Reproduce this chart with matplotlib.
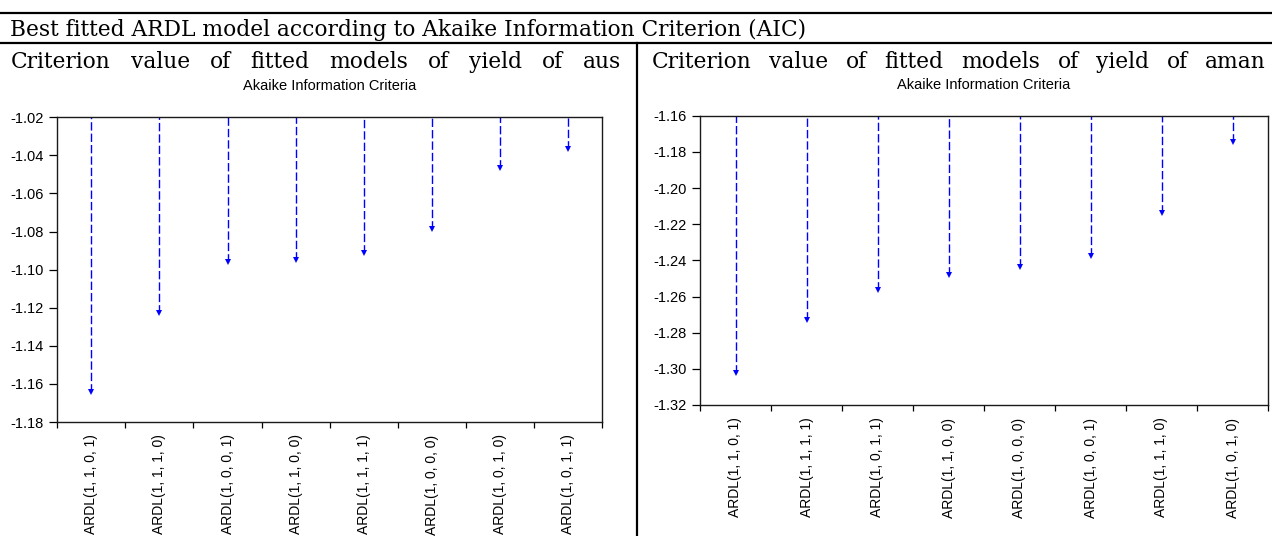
import numpy as np
import matplotlib
matplotlib.use('Agg')
import matplotlib.pyplot as plt
from matplotlib.lines import Line2D

# AIC values
aus_models = ['ARDL(1, 1, 0, 1)', 'ARDL(1, 1, 1, 0)', 'ARDL(1, 0, 0, 1)', 'ARDL(1, 1, 0, 0)',
              'ARDL(1, 1, 1, 1)', 'ARDL(1, 0, 0, 0)', 'ARDL(1, 0, 1, 0)', 'ARDL(1, 0, 1, 1)']
aus_aic = [-1.1645, -1.1228, -1.0961, -1.0949, -1.0910, -1.0788, -1.0468, -1.0366]
aus_yticks = [-1.18, -1.16, -1.14, -1.12, -1.10, -1.08, -1.06, -1.04, -1.02]

aman_models = ['ARDL(1, 1, 0, 1)', 'ARDL(1, 1, 1, 1)', 'ARDL(1, 0, 1, 1)', 'ARDL(1, 1, 0, 0)',
               'ARDL(1, 0, 0, 0)', 'ARDL(1, 0, 0, 1)', 'ARDL(1, 1, 1, 0)', 'ARDL(1, 0, 1, 0)']
aman_aic = [-1.3025, -1.2730, -1.2566, -1.2481, -1.2438, -1.2377, -1.2139, -1.1747]
aman_yticks = [-1.32, -1.30, -1.28, -1.26, -1.24, -1.22, -1.20, -1.18, -1.16]

heading = 'Best fitted ARDL model according to Akaike Information Criterion (AIC)'
aus_caption = 'Criterion value of fitted models of yield of aus'
aman_caption = 'Criterion value of fitted models of yield of aman'

W, H = 1272, 536
fig = plt.figure(figsize=(W / 100, H / 100), dpi=100)
renderer = fig.canvas.get_renderer()
serif = 'DejaVu Serif'
sans = 'Liberation Sans'


def px(x, y):
    return x / W, 1 - y / H


# table rules
for y in (13.3, 43.3):
    fig.add_artist(Line2D([0, 1], [1 - y / H] * 2, transform=fig.transFigure, color='black', lw=1.6))
fig.add_artist(Line2D([636.7 / W] * 2, [0, 1 - 43.3 / H], transform=fig.transFigure, color='black', lw=1.6))

# heading, scaled to the width it takes in the reference
t = fig.text(*px(10, 35.7), heading, family=serif, fontsize=14, va='baseline', ha='left')
fs = 14 * 799 / t.get_window_extent(renderer).width
t.set_fontsize(fs)


def justify(text, x0, x1, y):
    words = text.split()
    items = [fig.text(0, 1 - y / H, w, family=serif, fontsize=fs, va='baseline', ha='left') for w in words]
    widths = [it.get_window_extent(renderer).width for it in items]
    gap = (x1 - x0 - sum(widths)) / (len(words) - 1)
    x = x0
    for it, w in zip(items, widths):
        it.set_x(x / W)
        x += w + gap


justify(aus_caption, 11, 621, 67.7)
justify(aman_caption, 652, 1266, 67.7)


def draw_panel(ax, models, aic, yticks, title_pad):
    x = np.arange(len(models))
    ax.vlines(x, aic, yticks[-1], colors='#0000ff', linestyles=(0, (6, 2.2)), lw=1.0)
    ax.plot(x, aic, 'v', color='#0000ff', ms=4, mew=0)
    ax.set_xlim(-0.5, len(models) - 0.5)
    ax.set_ylim(yticks[0], yticks[-1])
    ax.set_yticks(yticks)
    ax.set_yticklabels([f'{v:.2f}' for v in yticks], family=sans, fontsize=10.5)
    ax.set_xticks(np.arange(len(models) + 1) - 0.5)
    ax.set_xticklabels([])
    ax.set_xticks(x, minor=True)
    ax.set_xticklabels(models, minor=True, rotation=90, family=sans, fontsize=10)
    ax.tick_params(axis='x', which='minor', length=0, pad=9)
    ax.tick_params(axis='x', which='major', length=4.5, width=0.9)
    ax.tick_params(axis='y', length=5.5, width=0.9, pad=4)
    for s in ax.spines.values():
        s.set_linewidth(1.0)
        s.set_color('#1a1a1a')
    ax.set_title('Akaike Information Criteria', family=sans, fontsize=10.5, pad=title_pad)


ax1 = fig.add_axes([57.3 / W, 1 - 422 / H, (602 - 57.3) / W, (422 - 117.3) / H])
draw_panel(ax1, aus_models, aus_aic, aus_yticks, 20)

ax2 = fig.add_axes([700 / W, 1 - 405 / H, (1268 - 700) / W, (405 - 115.7) / H])
draw_panel(ax2, aman_models, aman_aic, aman_yticks, 19)

plt.savefig('out.png', dpi=100)
